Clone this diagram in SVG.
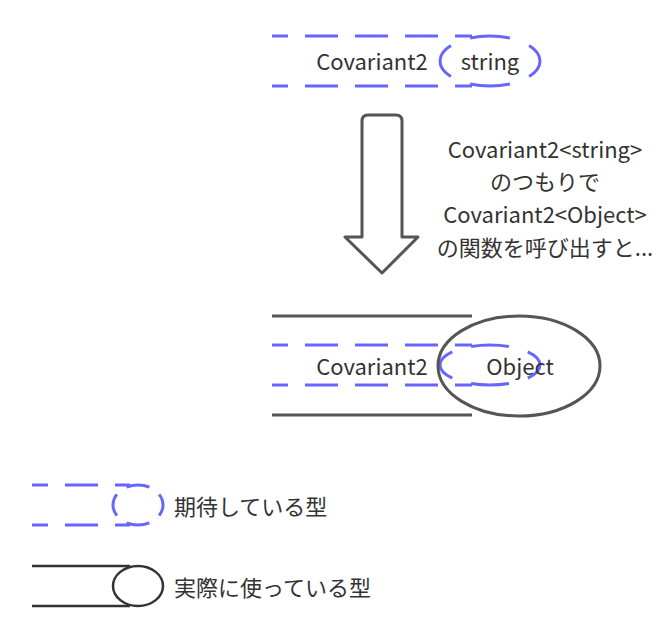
<svg xmlns="http://www.w3.org/2000/svg" width="671" height="625" viewBox="0 0 671 625">
<style>
.exp{fill:none;stroke:#6666ff;stroke-width:3;stroke-dasharray:33 17;stroke-dashoffset:17}
.expe{fill:none;stroke:#6666ff;stroke-width:3;stroke-dasharray:16.5 8.5;stroke-dashoffset:8.25}
.act{fill:none;stroke:#555;stroke-width:3}
.leg{fill:none;stroke:#333;stroke-width:2.5}
text{font-family:"Noto Sans CJK JP","Noto Sans",sans-serif;font-size:22px;fill:#333}
.c{text-anchor:middle}
</style>
<rect width="671" height="625" fill="#fff"/>
<g id="top">
<line class="exp" x1="272" y1="36" x2="472" y2="36"/>
<line class="exp" x1="272" y1="86" x2="472" y2="86"/>
<ellipse class="expe" cx="490" cy="61" rx="50" ry="25" pathLength="100"/>
<text class="c" x="372" y="70">Covariant2</text>
<text class="c" x="490" y="70">string</text>
</g>
<g id="connectors">
<path d="M368,115 H396 Q402,115 402,121 V237 H418 L382,273 L345,237 H362 V121 Q362,115 368,115 Z" fill="none" stroke="#555" stroke-width="3" stroke-linejoin="round"/>
</g>
<g id="note">
<text class="c" x="545" y="158">Covariant2&lt;string&gt;</text>
<text class="c" x="545" y="190">のつもりで</text>
<text class="c" x="545" y="223">Covariant2&lt;Object&gt;</text>
<text class="c" x="545" y="256">の関数を呼び出すと...</text>
</g>
<g id="middle">
<line class="act" x1="272" y1="316" x2="472" y2="316"/>
<line class="act" x1="272" y1="415" x2="472" y2="415"/>
<line class="exp" x1="272" y1="345" x2="472" y2="345"/>
<line class="exp" x1="272" y1="385" x2="472" y2="385"/>
<ellipse class="expe" cx="490" cy="365" rx="50" ry="20" pathLength="100"/>
<ellipse class="act" cx="519" cy="366" rx="81" ry="50"/>
<text class="c" x="372" y="375">Covariant2</text>
<text class="c" x="520" y="375">Object</text>
</g>
<g id="legend-expected">
<line class="exp" x1="32" y1="485" x2="130" y2="485"/>
<line class="exp" x1="32" y1="525" x2="130" y2="525"/>
<ellipse class="expe" cx="138" cy="505" rx="25" ry="20" pathLength="100"/>
<text x="174" y="515">期待している型</text>
</g>
<g id="legend-actual">
<line class="leg" x1="32" y1="566" x2="130" y2="566"/>
<line class="leg" x1="32" y1="606" x2="130" y2="606"/>
<ellipse class="leg" cx="138" cy="586" rx="25" ry="20" style="fill:#fff"/>
<text x="174" y="596">実際に使っている型</text>
</g>
</svg>
